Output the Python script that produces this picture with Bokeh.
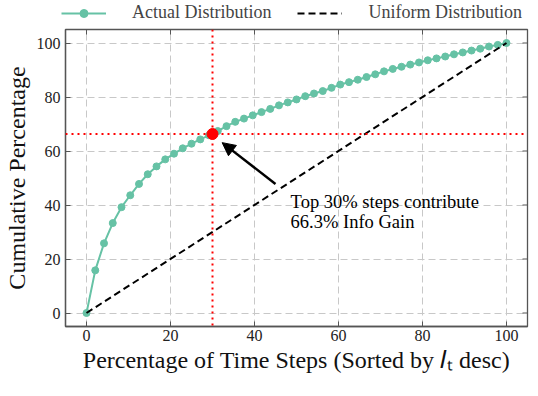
import numpy as np
from bokeh.plotting import figure
from bokeh.layouts import column
from bokeh.models import (Range1d, Legend, LegendItem, Span, Arrow,
                          NormalHead, FixedTicker, ColumnDataSource)
from bokeh.core.properties import value
from bokeh.embed import file_html
from bokeh.resources import INLINE

# ---- data ----
actual_y = [0, 15.8, 25.8, 33.3, 39.2, 43.6, 47.8, 51.4, 54.3, 56.9,
            59.0, 61.0, 62.7, 64.3, 65.8, 67.4, 69.2, 70.8, 72.0, 73.2,
            74.4, 75.6, 76.9, 78.0, 79.1, 80.3, 81.3, 82.2, 83.4, 84.6,
            85.5, 86.4, 87.4, 88.4, 89.5, 90.4, 91.2, 92.0, 92.8, 93.6,
            94.3, 95.0, 95.8, 96.5, 97.2, 97.9, 98.7, 99.3, 100.0]
actual_x = list(np.linspace(0, 100, len(actual_y)))
uniform_x = [0, 100]
uniform_y = [0, 100]
highlight_x = 30
highlight_y = 66.3
ticks = [0, 20, 40, 60, 80, 100]
series_labels = ["Actual Distribution", "Uniform Distribution"]
note_lines = ["Top 30% steps contribute", "66.3% Info Gain"]
note_x = 48.6
note_y = [41.2, 33.8]
arrow_from = (45.0, 47.8)
arrow_to = (32.3, 63.1)
x_lo, x_hi = -5, 105
y_lo, y_hi = -5, 105

FONT = "Liberation Serif"
TEAL = "#66c2a5"
FW, FH = 462, 297
BL, BR, BT, BB = 61, 5, 3, 54
TOTAL_W = BL + FW + BR
LEG_H = 26

# ---------------- main plot ----------------
p = figure(frame_width=FW, frame_height=FH,
           x_range=Range1d(x_lo, x_hi), y_range=Range1d(y_lo, y_hi),
           output_backend="svg", toolbar_location=None,
           min_border_left=BL, min_border_right=BR, min_border_top=BT, min_border_bottom=BB,
           background_fill_color="white", border_fill_color="white")
p.outline_line_color = "#555555"
p.outline_line_width = 1.3

for ax in (p.xaxis[0], p.yaxis[0]):
    ax.ticker = FixedTicker(ticks=ticks)
    ax.major_tick_in = 5
    ax.major_tick_out = 0
    ax.minor_tick_line_color = None
    ax.major_tick_line_color = "#555555"
    ax.axis_line_color = "#555555"
    ax.axis_line_width = 1.3
    ax.major_label_text_font = FONT
    ax.major_label_text_font_size = "16px"
    ax.major_label_text_color = "#222222"
    ax.axis_label_text_font = FONT
    ax.axis_label_text_font_size = "24px"
    ax.axis_label_text_font_style = "normal"
    ax.axis_label_text_color = "#111111"

p.xaxis.axis_label = "Percentage of Time Steps (Sorted by 𝐼ₜ desc)"
p.yaxis.axis_label = "Cumulative Percentage"
p.xaxis.major_label_standoff = 3
p.xaxis.axis_label_standoff = 3
p.yaxis.major_label_standoff = 5
p.yaxis.axis_label_standoff = 4

p.xgrid.ticker = FixedTicker(ticks=ticks)
p.ygrid.ticker = FixedTicker(ticks=ticks)
p.grid.grid_line_color = "#c8c8c8"
p.grid.grid_line_dash = "7 4"
p.grid.grid_line_width = 1

# inward ticks on the top and right edges of the frame
tick_dy = 5 * (y_hi - y_lo) / FH
tick_dx = 5 * (x_hi - x_lo) / FW
p.segment(x0=ticks, y0=[y_hi] * len(ticks), x1=ticks, y1=[y_hi - tick_dy] * len(ticks),
          line_color="#555555", line_width=1)
p.segment(x0=[x_hi] * len(ticks), y0=ticks, x1=[x_hi - tick_dx] * len(ticks), y1=ticks,
          line_color="#555555", line_width=1)

src = ColumnDataSource(dict(x=actual_x, y=actual_y))
p.line("x", "y", source=src, line_color=TEAL, line_width=2)
p.scatter("x", "y", source=src, size=7, fill_color=TEAL, line_color=TEAL)
p.line(uniform_x, uniform_y, line_color="black", line_width=2, line_dash="7 4")

p.add_layout(Span(location=highlight_x, dimension="height", line_color="red",
                  line_width=2, line_dash="2 4"))
p.add_layout(Span(location=highlight_y, dimension="width", line_color="red",
                  line_width=2, line_dash="2 4"))
p.scatter([highlight_x], [highlight_y], size=11, fill_color="red", line_color="red")

p.add_layout(Arrow(end=NormalHead(size=13, fill_color="black", line_color="black"),
                   x_start=arrow_from[0], y_start=arrow_from[1],
                   x_end=arrow_to[0], y_end=arrow_to[1],
                   line_color="black", line_width=2.5))

p.text(x=[note_x] * len(note_lines), y=note_y, text=note_lines,
       text_font=value(FONT), text_font_size="18.5px", text_baseline="middle",
       text_align="left", text_color="black")

# ---------------- legend strip above the plot ----------------
lg = figure(width=TOTAL_W, height=LEG_H, x_range=Range1d(0, 1), y_range=Range1d(0, 1),
            x_axis_type=None, y_axis_type=None,
            output_backend="svg", toolbar_location=None,
            min_border=0, outline_line_color=None,
            background_fill_color="white", border_fill_color="white")
lg.frame_align = False
lg.grid.visible = False
l1 = lg.line([-5, -4], [-5, -4], line_color=TEAL, line_width=2)
l2 = lg.scatter([-5], [-5], size=7, fill_color=TEAL, line_color=TEAL)
l3 = lg.line([-5, -4], [-5, -4], line_color="black", line_width=2, line_dash="7 4")
legend = Legend(items=[LegendItem(label=series_labels[0], renderers=[l1, l2]),
                       LegendItem(label=series_labels[1], renderers=[l3])],
                orientation="horizontal", location=(61, 3),
                label_text_font=FONT, label_text_font_size="18px",
                glyph_width=45, label_standoff=26, spacing=26,
                padding=0, margin=0, border_line_color=None,
                background_fill_alpha=0, label_height=20, glyph_height=20)
lg.add_layout(legend, "center")

layout = column(lg, p, spacing=0)
open("out.html", "w").write(file_html(layout, INLINE))
